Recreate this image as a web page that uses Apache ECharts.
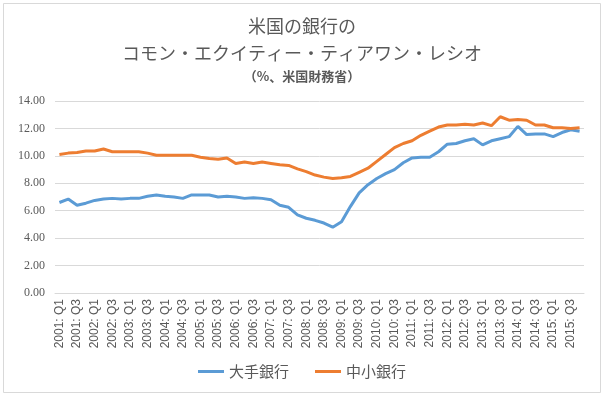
<!DOCTYPE html>
<html>
<head>
<meta charset="utf-8">
<script src="https://cdn.jsdelivr.net/npm/echarts@6/dist/echarts.min.js"></script>
<style>
  html, body { margin: 0; padding: 0; background: #fff; }
  #main { width: 604px; height: 397px; }
</style>
</head>
<body>
<div id="main"></div>
<script>
// 四半期 2001 Q1 - 2015 Q4
var years = [];
for (var y = 2001; y <= 2015; y++) years.push(y);
var quarters = ["Q1", "Q2", "Q3", "Q4"];
var categories = [];
years.forEach(function (y) {
    quarters.forEach(function (q) { categories.push(y + ": " + q); });
});

var bigBanks = [
    6.6, 6.85, 6.4, 6.55, 6.75, 6.85, 6.9, 6.85, 6.9, 6.9,
    7.05, 7.15, 7.05, 7.0, 6.9, 7.15, 7.15, 7.15, 7.0, 7.05,
    7.0, 6.9, 6.95, 6.9, 6.8, 6.4, 6.25, 5.7, 5.45, 5.3,
    5.1, 4.8, 5.2, 6.3, 7.3, 7.9, 8.35, 8.7, 9.0, 9.5,
    9.85, 9.9, 9.9, 10.3, 10.85, 10.9, 11.1, 11.25, 10.8, 11.1,
    11.25, 11.4, 12.15, 11.55, 11.6, 11.6, 11.4, 11.7, 11.9, 11.8
];
var smallBanks = [
    10.1, 10.2, 10.25, 10.35, 10.35, 10.5, 10.3, 10.3, 10.3, 10.3,
    10.2, 10.05, 10.05, 10.05, 10.05, 10.05, 9.9, 9.8, 9.75, 9.85,
    9.45, 9.55, 9.45, 9.55, 9.45, 9.35, 9.3, 9.05, 8.85, 8.6,
    8.45, 8.35, 8.4, 8.5, 8.8, 9.1, 9.6, 10.1, 10.6, 10.9,
    11.1, 11.5, 11.8, 12.1, 12.25, 12.25, 12.3, 12.25, 12.4, 12.2,
    12.85, 12.6, 12.65, 12.6, 12.25, 12.25, 12.05, 12.05, 12.0, 12.05
];

var myChart = echarts.init(document.getElementById("main"));
var option = {
    backgroundColor: "#fff",
    graphic: [{
        type: "rect",
        shape: { x: 3.5, y: 3.5, width: 597, height: 389 },
        style: { fill: "none", stroke: "#d9d9d9", lineWidth: 1 }
    }],
    title: [{
        text: "米国の銀行の\nコモン・エクイティー・ティアワン・レシオ",
        left: "center",
        top: 8,
        textStyle: {
            fontFamily: "Noto Sans CJK JP",
            fontSize: 18,
            fontWeight: "normal",
            color: "#595959",
            lineHeight: 27
        }
    }, {
        text: "（%、米国財務省）",
        left: "center",
        top: 65,
        textStyle: {
            fontFamily: "Noto Sans CJK JP",
            fontSize: 13,
            fontWeight: "bold",
            color: "#595959"
        }
    }],
    legend: {
        bottom: 13,
        left: "center",
        itemWidth: 26,
        itemHeight: 3,
        itemGap: 26,
        icon: "rect",
        textStyle: { fontFamily: "Noto Sans CJK JP", fontSize: 15, color: "#595959" },
        data: ["大手銀行", "中小銀行"]
    },
    grid: { left: 55, right: 20, top: 101, bottom: 104 },
    xAxis: {
        type: "category",
        data: categories,
        boundaryGap: true,
        axisLine: { lineStyle: { color: "#d9d9d9" } },
        axisTick: { show: false },
        axisLabel: {
            interval: 1,
            rotate: 90,
            fontFamily: "Liberation Sans",
            fontSize: 12,
            color: "#595959",
            margin: 6
        }
    },
    yAxis: {
        type: "value",
        min: 0,
        max: 14,
        interval: 2,
        axisLine: { show: false },
        axisTick: { show: false },
        splitLine: { lineStyle: { color: "#d9d9d9" } },
        axisLabel: {
            fontFamily: "Liberation Serif",
            fontSize: 12,
            color: "#595959",
            margin: 10,
            formatter: function (v) { return v.toFixed(2); }
        }
    },
    series: [{
        name: "大手銀行",
        type: "line",
        data: bigBanks,
        symbol: "none",
        color: "#5B9BD5",
        lineStyle: { width: 3, color: "#5B9BD5" }
    }, {
        name: "中小銀行",
        type: "line",
        data: smallBanks,
        symbol: "none",
        color: "#ED7D31",
        lineStyle: { width: 3, color: "#ED7D31" }
    }]
};
myChart.setOption(option);
</script>
</body>
</html>
